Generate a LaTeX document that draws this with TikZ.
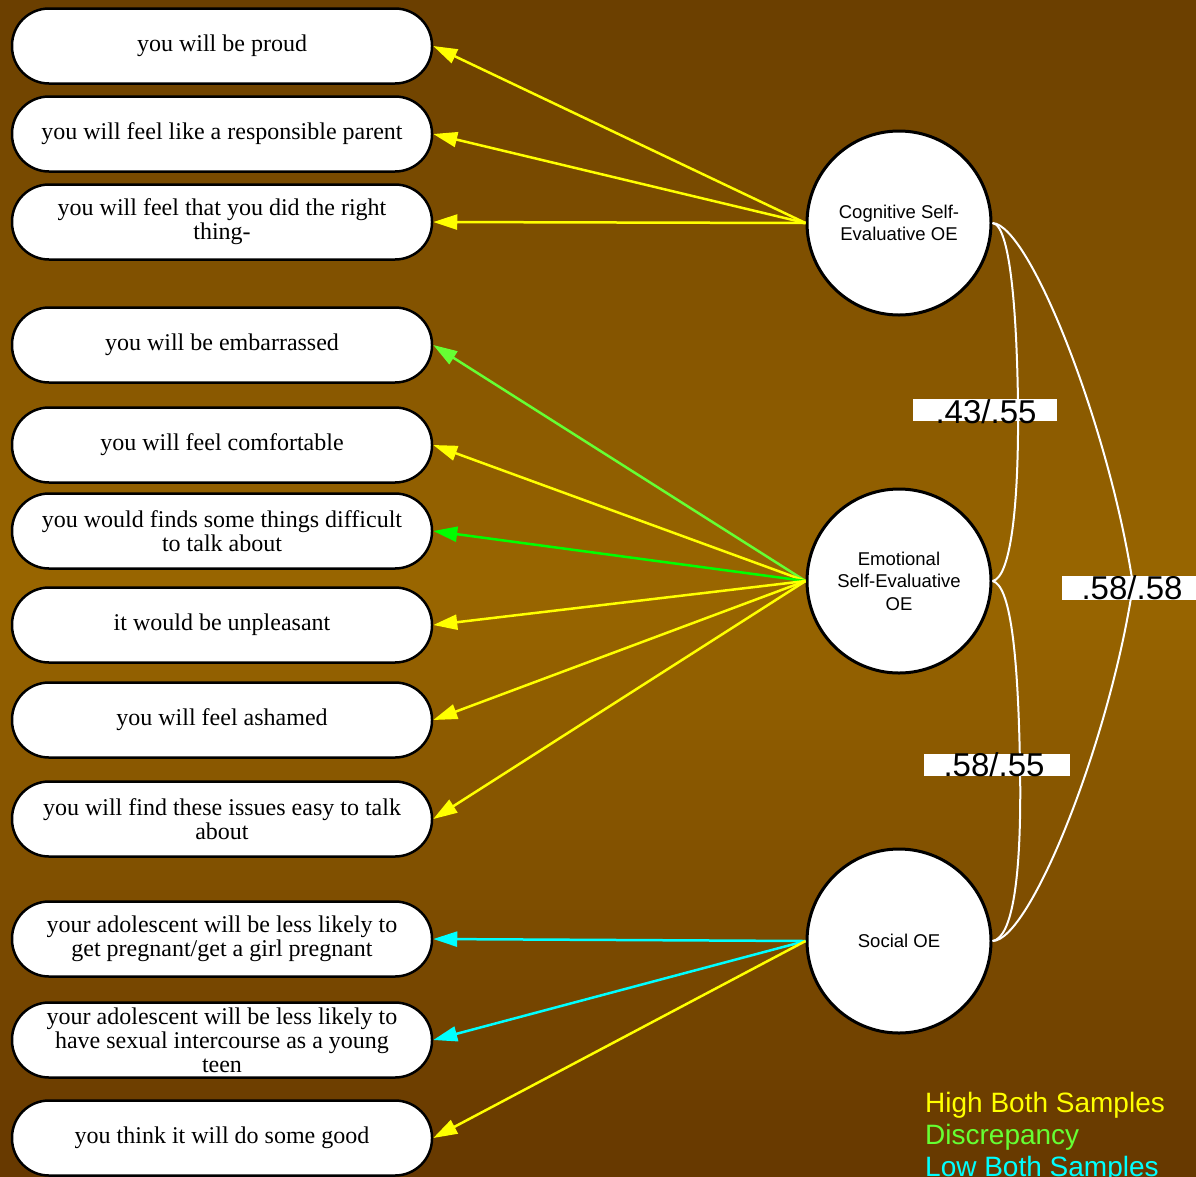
\documentclass[tikz,border=0pt]{standalone}
\usepackage{fontspec}
\setmainfont{Liberation Serif}
\newfontfamily\arialf{Liberation Sans}
\usetikzlibrary{arrows.meta}
\definecolor{bgtop}{RGB}{107,63,0}
\definecolor{bgmid}{RGB}{153,102,0}
\definecolor{bgbot}{RGB}{102,56,0}
\definecolor{hiY}{RGB}{255,255,0}
\definecolor{discG}{RGB}{102,255,51}
\definecolor{pureG}{RGB}{0,255,0}
\definecolor{lowC}{RGB}{0,255,255}
\begin{document}
\begin{tikzpicture}[x=1pt,y=-1pt,
  item/.style={draw=black, line width=2.5pt, fill=white, rounded corners=37pt,
    minimum width=420pt, minimum height=75pt, inner sep=0pt, align=center,
    font=\fontsize{24}{24}\selectfont},
  latent/.style={circle, draw=black, line width=3pt, fill=white, minimum size=184pt,
    inner sep=0pt, align=center, font=\arialf\fontsize{18.5}{22.5}\selectfont},
  load/.style={line width=2.5pt, -{Triangle[length=24pt,width=15pt]}},
  corr/.style={white, line width=2pt},
  labbox/.style={fill=white, inner sep=0pt},
  lab/.style={font=\arialf\fontsize{33}{33}\selectfont, text=black, inner sep=0pt},
  legend/.style={font=\arialf\fontsize{28}{32}\selectfont, anchor=base west, inner sep=0pt}]
\useasboundingbox (0,0) rectangle (1196,1176);
% background gradient, drawn as thin bands
\foreach \k in {0,...,58}{
  \pgfmathsetmacro{\pc}{100*\k/58}
  \fill[bgmid!\pc!bgtop] (0,{\k*10}) rectangle (1196,{\k*10+10.6});
}
\foreach \k in {0,...,58}{
  \pgfmathsetmacro{\pc}{100*\k/58}
  \fill[bgbot!\pc!bgmid] (0,{590+\k*10}) rectangle (1196,{590+\k*10+10.6});
}

% indicator ovals
\node[item] (i1) at (222,46) {you will be proud};
\node[item] (i2) at (222,134) {you will feel like a responsible parent};
\node[item] (i3) at (222,222) {you will feel that you did the right\\thing-};
\node[item] (i4) at (222,345) {you will be embarrassed};
\node[item] (i5) at (222,445) {you will feel comfortable};
\node[item] (i6) at (222,531) {you would finds some things difficult\\to talk about};
\node[item] (i7) at (222,625) {it would be unpleasant};
\node[item] (i8) at (222,720) {you will feel ashamed};
\node[item] (i9) at (222,819) {you will find these issues easy to talk\\about};
\node[item] (i10) at (222,939) {your adolescent will be less likely to\\get pregnant/get a girl pregnant};
\node[item] (i11) at (222,1040) {your adolescent will be less likely to\\have sexual intercourse as a young\\teen};
\node[item] (i12) at (222,1138) {you think it will do some good};

% latent factors
\node[latent] (cog) at (899,223) {Cognitive Self-\\Evaluative OE};
\node[latent] (emo) at (899,581) {Emotional\\Self-Evaluative\\OE};
\node[latent] (soc) at (899,941) {Social OE};

% loadings
\draw[load, hiY] (cog.west) -- (i1.east);
\draw[load, hiY] (cog.west) -- (i2.east);
\draw[load, hiY] (cog.west) -- (i3.east);
\draw[load, discG] (emo.west) -- (i4.east);
\draw[load, hiY] (emo.west) -- (i5.east);
\draw[load, pureG] (emo.west) -- (i6.east);
\draw[load, hiY] (emo.west) -- (i7.east);
\draw[load, hiY] (emo.west) -- (i8.east);
\draw[load, hiY] (emo.west) -- (i9.east);
\draw[load, lowC] (soc.west) -- (i10.east);
\draw[load, lowC] (soc.west) -- (i11.east);
\draw[load, hiY] (soc.west) -- (i12.east);

% correlations
\draw[corr] (cog.east) .. controls (1012,225) and (1017,330) .. (1018,403)
  .. controls (1019,510) and (1010,578) .. (emo.east);
\draw[corr] (emo.east) .. controls (1010,585) and (1018,650) .. (1020,765)
  .. controls (1022,880) and (1012,938) .. (soc.east);
\draw[corr] (cog.east) .. controls (1030,225) and (1110,430) .. (1133,585)
  .. controls (1110,740) and (1030,941) .. (soc.east);

% correlation labels
\node[labbox, minimum width=144pt, minimum height=22pt] (b1) at (985,410) {};
\node[lab] (t1) at (986,412) {.43/.55};
\node[labbox, minimum width=134pt, minimum height=24pt] (b2) at (1129,588) {};
\node[lab] (t2) at (1132,588) {.58/.58};
\node[labbox, minimum width=146pt, minimum height=22pt] (b3) at (997,765) {};
\node[lab] (t3) at (994,765) {.58/.55};

% legend
\node[legend, text=hiY] (lg1) at (925,1112) {High Both Samples};
\node[legend, text=discG] (lg2) at (925,1144) {Discrepancy};
\node[legend, text=lowC] (lg3) at (925,1176) {Low Both Samples};
\end{tikzpicture}
\end{document}
